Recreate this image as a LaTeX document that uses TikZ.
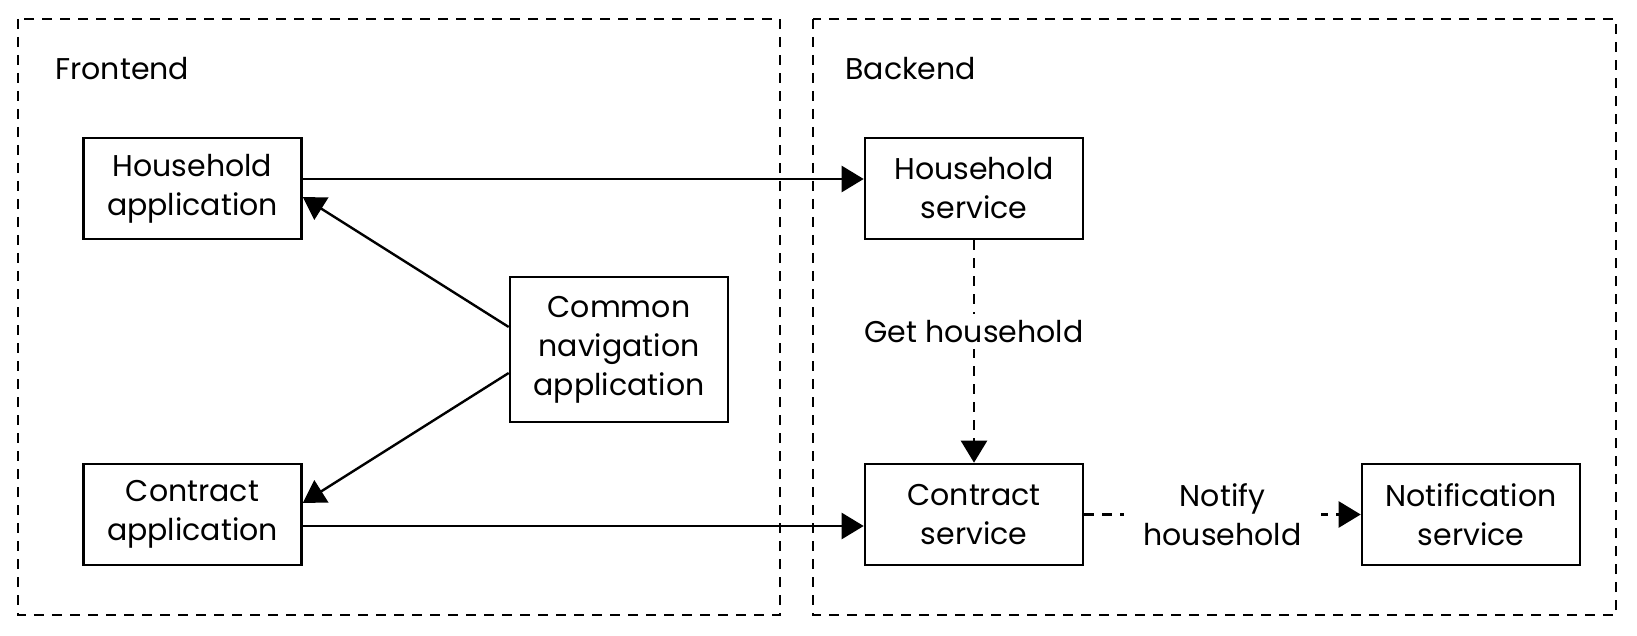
\documentclass[tikz,border=0pt]{standalone}
\usepackage{fontspec}
\setmainfont{Poppins}
\usetikzlibrary{arrows.meta,calc}
\begin{document}
\begin{tikzpicture}[x=0.5pt,y=-0.5pt,
  txt/.style={font=\fontsize{15}{19.5}\selectfont,align=center,inner sep=1pt},
  box/.style={txt,draw,line width=1.3pt,minimum width=109pt,minimum height=50.5pt},
  group/.style={draw,dash pattern=on 5pt off 4pt,line width=1pt},
  conn/.style={line width=1.2pt,-{Triangle[length=11pt,width=13pt]}},
  dconn/.style={conn,dash pattern=on 5pt off 4pt},
  lbl/.style={txt,fill=white,inner sep=3pt}]
\useasboundingbox (0,0) rectangle (1637,636);
\draw[group] (18,19) rectangle (780,615);
\draw[group] (813,19) rectangle (1616,615);
\node[txt,anchor=base west] (fe) at (53,80) {Frontend};
\node[txt,anchor=base west] (be) at (843,80) {Backend};
\node[box] (ha) at (192.5,188.5) {Household\\application};
\node[box] (ca) at (192.5,514.5) {Contract\\application};
\node[box,minimum height=72.5pt] (cn) at (619,349.5) {Common\\navigation\\application};
\node[box] (hs) at (974,188.5) {Household\\service};
\node[box] (cs) at (974,514.5) {Contract\\service};
\node[box] (ns) at (1471,514.5) {Notification\\service};
\draw[conn] ($(ha.east)+(0,-9.5)$) -- ($(hs.west)+(0,-9.5)$);
\draw[conn] ($(ca.east)+(0,11.5)$) -- ($(cs.west)+(0,11.5)$);
\draw[conn] ($(cn.west)+(0,-22.5)$) -- ($(ha.east)+(0,8.5)$);
\draw[conn] ($(cn.west)+(0,23.5)$) -- ($(ca.east)+(0,-11.5)$);
\draw[dconn] (hs.south) -- node[lbl,pos=0.41] (gh) {Get household} (cs.north);
\draw[dconn] (cs.east) -- node[lbl,pos=0.5,inner xsep=10pt] (nh) {Notify\\household} (ns.west);
\end{tikzpicture}
\end{document}
